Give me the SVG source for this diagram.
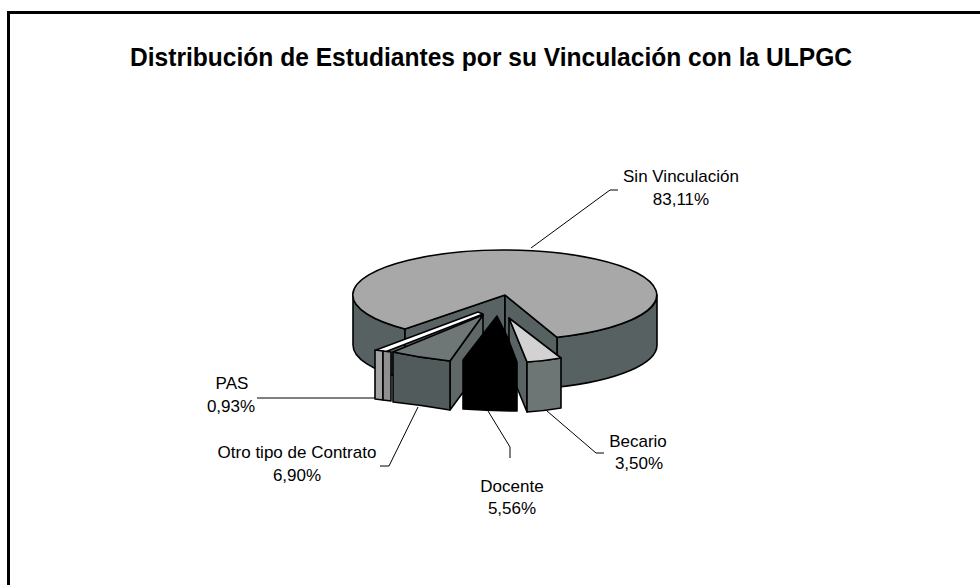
<svg xmlns="http://www.w3.org/2000/svg" width="980" height="585" viewBox="0 0 980 585">
<style>
.t{font-family:"Liberation Sans",Arial,sans-serif;font-size:17px;fill:#000;text-anchor:middle}
.ttl{font-family:"Liberation Sans",Arial,sans-serif;font-size:26px;font-weight:bold;fill:#000;text-anchor:middle}
.o{stroke:#000;stroke-width:1.6;stroke-linejoin:round}
.ld{fill:none;stroke:#000;stroke-width:1}
</style>
<rect x="0" y="0" width="980" height="585" fill="#fff"/>
<rect x="8.5" y="12.5" width="990" height="620" fill="none" stroke="#000" stroke-width="3"/>
<text class="ttl" x="491" y="66" textLength="722" lengthAdjust="spacingAndGlyphs">Distribución de Estudiantes por su Vinculación con la ULPGC</text>

<g id="slice-sin-vinculacion">
  <path class="o" fill="#586161" d="M353,295 A152,45 0 0 0 405,329 L405,379 A152,45 0 0 1 353,345 Z"/>
  <path class="o" fill="#586161" d="M557,337.3 A152,45 0 0 0 657,295 L657,345 A152,45 0 0 1 557,387.3 Z"/>
  <path class="o" fill="#5a6363" d="M505,295 L405,329 L405,379 L505,345 Z"/>
  <path class="o" fill="#586161" d="M505,295 L557,337.3 L557,387.3 L505,345 Z"/>
  <path class="o" fill="#a8a8a8" d="M505,295 L405,329 A152,45 0 1 1 557,337.3 Z"/>
</g>

<g id="slice-pas">
  <path class="o" fill="#ffffff" d="M376,350 L478,312 L483,314 L385,352 Z"/>
  <path class="o" fill="#a3a3a3" d="M375,350 L383,351 L383,400 L375,399 Z"/>
  <path class="o" fill="#8f8f8f" d="M383,351 L391,352 L391,401 L383,400 Z"/>
</g>

<g id="slice-otro">
  <path class="o" fill="#5f6767" d="M450,361 L483,315 L483,365 L450,410 Z"/>
  <path class="o" fill="#525b5b" d="M393,352 Q421,358 450,361 L450,410 Q421,405 393,402 Z"/>
  <path class="o" fill="#6f7676" d="M483,315 L393,352 Q421,358 450,361 Z"/>
</g>

<g id="slice-becario">
  <path class="o" fill="#5a6363" d="M509,318 L527,362 L527,412 L509,368 Z"/>
  <path class="o" fill="#6e7575" d="M527,362 Q544,361 561,358 L561,408 Q544,411 527,412 Z"/>
  <path class="o" fill="#d2d2d2" d="M509,318 L527,362 Q544,361 561,358 Z"/>
</g>

<g id="slice-docente">
  <path class="o" fill="#000" d="M497,316 L463,360 L463,409 Q490,411 517,411 L517,362 L507,336 Z"/>
</g>

<g id="connectors">
  <polyline class="ld" points="531,248 610,190 618,190"/>
  <polyline class="ld" points="547,411 596,453 604,453"/>
  <polyline class="ld" points="488,411 510,447 510,458"/>
  <polyline class="ld" points="380,466 389,466 418,407"/>
  <polyline class="ld" points="257,398 375,398"/>
</g>

<g id="label-sin-vinculacion">
  <text class="t" x="681" y="182">Sin Vinculación</text>
  <text class="t" x="681" y="205">83,11%</text>
</g>
<g id="label-becario">
  <text class="t" x="638" y="447">Becario</text>
  <text class="t" x="639" y="469">3,50%</text>
</g>
<g id="label-docente">
  <text class="t" x="512" y="492">Docente</text>
  <text class="t" x="512" y="514">5,56%</text>
</g>
<g id="label-otro">
  <text class="t" x="297" y="458">Otro tipo de Contrato</text>
  <text class="t" x="297" y="481">6,90%</text>
</g>
<g id="label-pas">
  <text class="t" x="232" y="389">PAS</text>
  <text class="t" x="231" y="412">0,93%</text>
</g>
</svg>
